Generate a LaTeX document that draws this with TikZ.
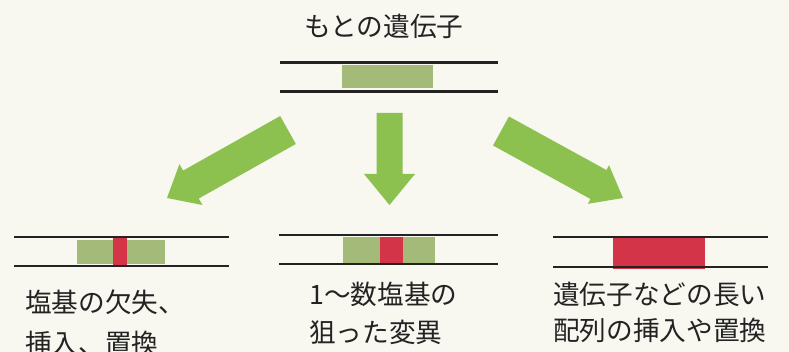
\documentclass[tikz,border=0pt]{standalone}
\usepackage{fontspec}
\setmainfont{Noto Sans CJK JP}
\usetikzlibrary{calc}

\definecolor{paper}{RGB}{248,247,240}
\definecolor{arrowgreen}{RGB}{140,193,80}
\definecolor{genegreen}{RGB}{163,186,120}
\definecolor{mutred}{RGB}{211,52,72}
\definecolor{ink}{RGB}{35,35,35}

\begin{document}
\begin{tikzpicture}[x=0.75pt,y=-0.75pt,
        strand/.style={line width=2.1pt,draw=ink},
        caption/.style={inner sep=0,anchor=base west,align=left,text=ink,
            font=\fontsize{20pt}{28.5pt}\selectfont}]
        \fill[paper] (0,0) rectangle (789,352);
        \useasboundingbox (0,0) rectangle (789,352);

        \node[caption,anchor=base] (orig) at (384,37) {もとの遺伝子};

        % Arrow ends
        \coordinate (la) at (288,130);
        \coordinate (lb) at (167,198);
        \coordinate (ma) at (389.5,113);
        \coordinate (mb) at (389.5,205);
        \coordinate (ra) at (501,131);
        \coordinate (rb) at (623,198);

        \foreach \t/\h/\sw/\hw/\hl in {la/lb/12pt/17.6pt/20.6pt, ma/mb/9.75pt/19.1pt/23.25pt, ra/rb/12.4pt/16.5pt/21pt} {
            \coordinate (hb) at ($(\h)!\hl!(\t)$);
            \fill[arrowgreen] ($(\t)!\sw!90:(\h)$) -- ($(hb)!\sw!-90:(\t)$) -- ($(hb)!\hw!-90:(\t)$)
                -- (\h) -- ($(hb)!\hw!90:(\t)$) -- ($(hb)!\sw!90:(\t)$) -- ($(\t)!\sw!-90:(\h)$) -- cycle;
        }

        % Genes
        \fill[genegreen] (342,65) rectangle (433,88);
        \fill[genegreen] (77,240) rectangle (165,264);
        \fill[mutred] (113,238) rectangle (127,267);
        \fill[genegreen] (343,237) rectangle (435,263);
        \fill[mutred] (380,237) rectangle (403,263);
        \fill[mutred] (613,238) rectangle (705,269);

        % Strands
        \foreach \xa/\xb/\ya/\yb in {280/498/62.5/91.5, 14/229/237/266, 279/498/235/264, 553/768/237/267} {
            \draw[strand] (\xa,\ya) -- (\xb,\ya);
            \draw[strand] (\xa,\yb) -- (\xb,\yb);
        }

        % Captions (base = last line)
        \node[caption,font=\fontsize{20pt}{30.75pt}\selectfont] (del) at (25,354) {塩基の欠失、\\挿入、置換};
        \node[caption] (pt) at (309,343) {1〜数塩基の\\狙った変異};
        \node[caption,font=\fontsize{20pt}{27pt}\selectfont] (ins) at (553,341) {遺伝子などの長い\\配列の挿入や置換};
    \end{tikzpicture}
\end{document}
